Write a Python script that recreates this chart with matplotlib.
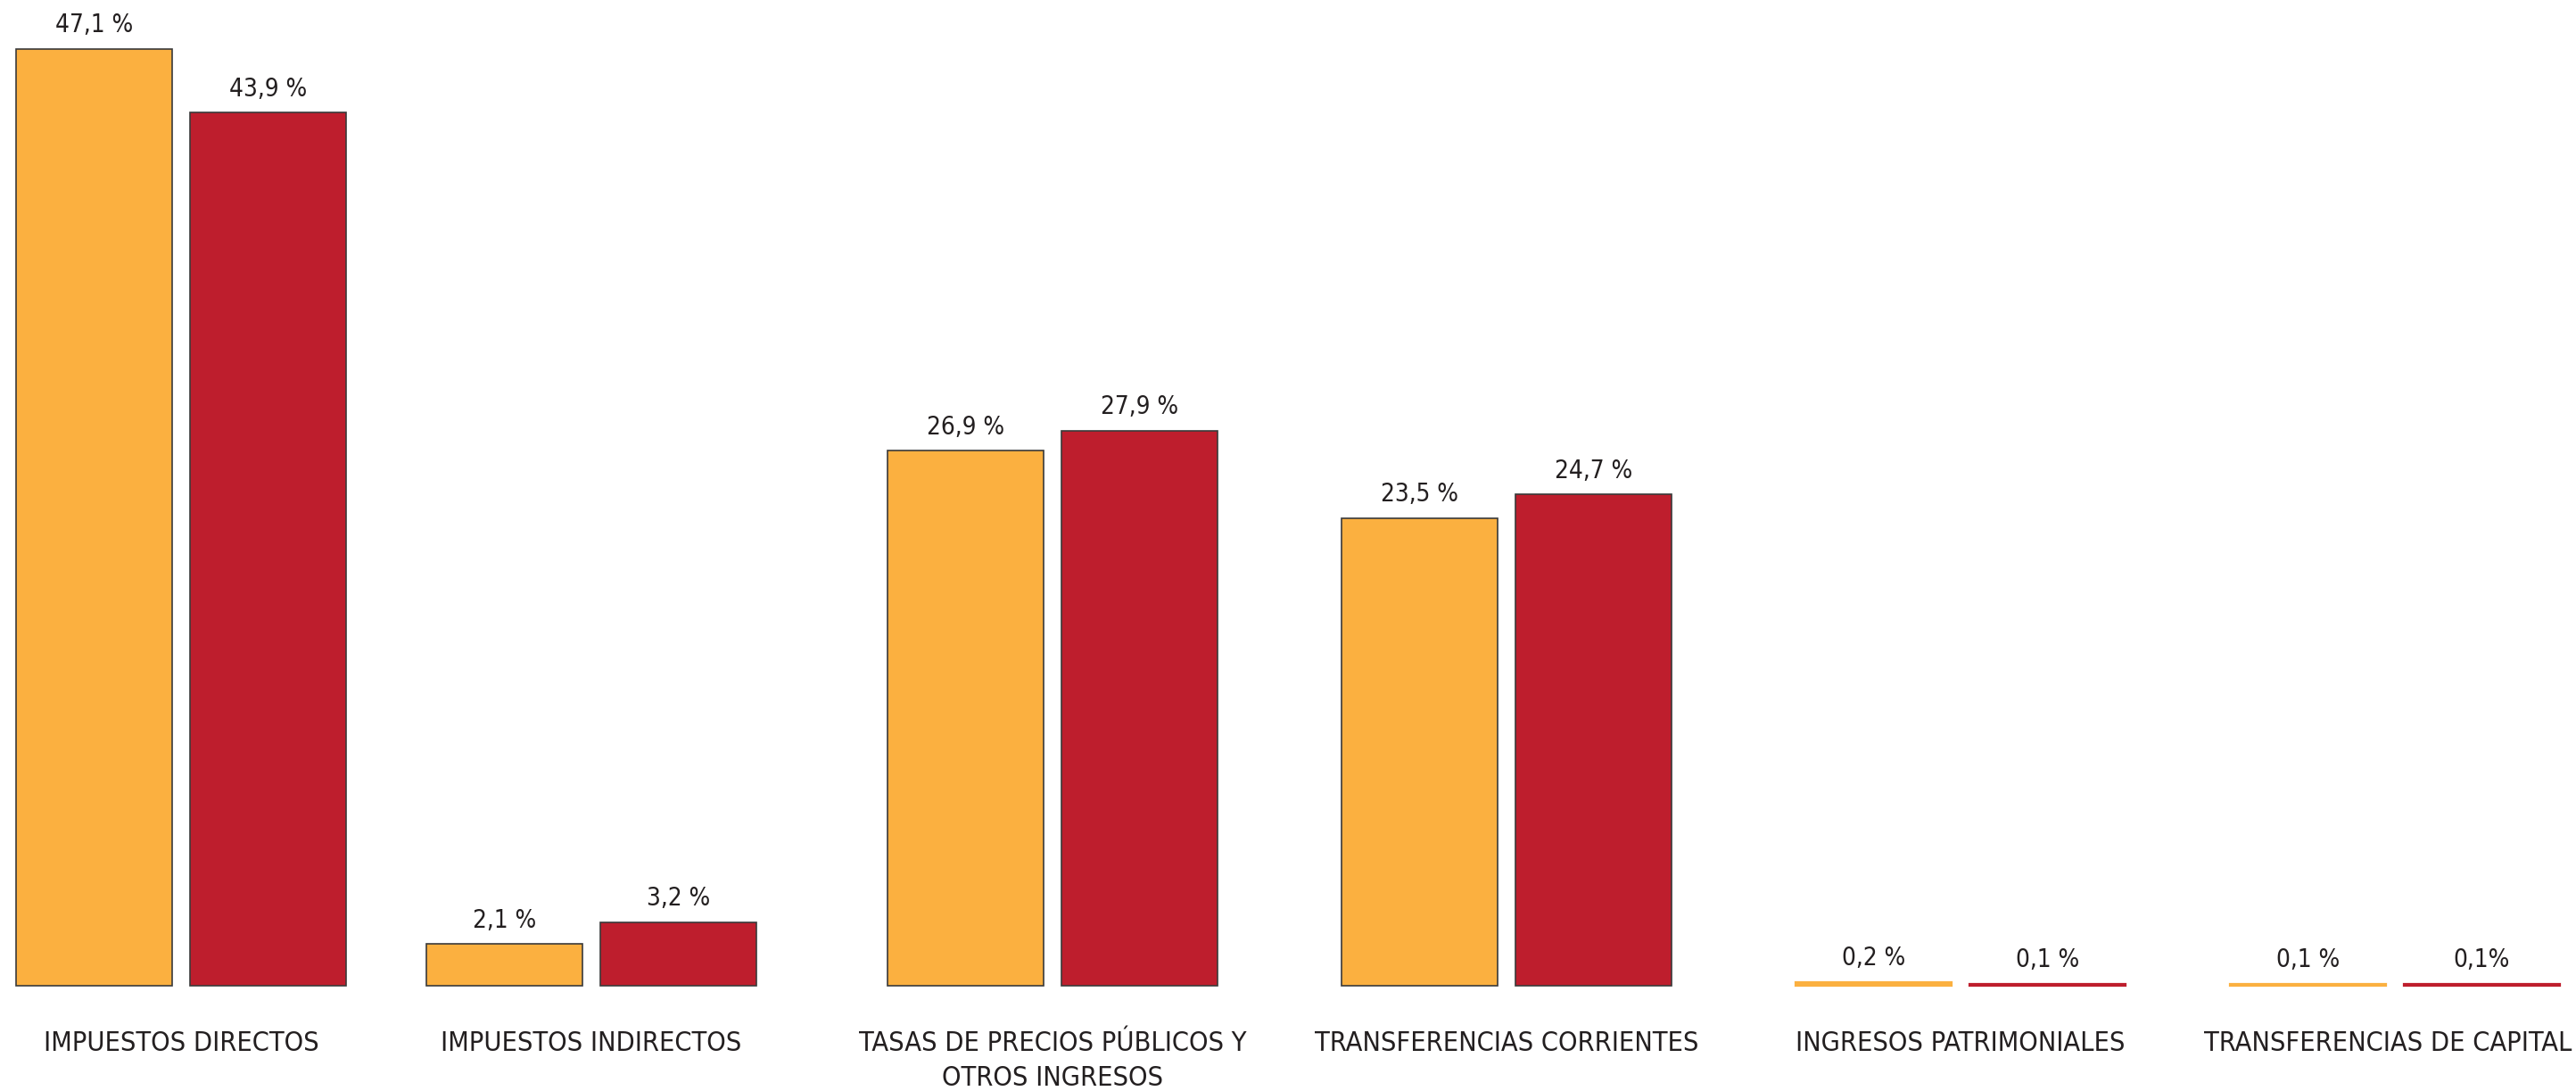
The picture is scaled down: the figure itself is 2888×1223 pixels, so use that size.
import numpy as np
import matplotlib.pyplot as plt

categories = ['IMPUESTOS DIRECTOS', 'IMPUESTOS INDIRECTOS',
              'TASAS DE PRECIOS PÚBLICOS Y\nOTROS INGRESOS',
              'TRANSFERENCIAS CORRIENTES', 'INGRESOS PATRIMONIALES',
              'TRANSFERENCIAS DE CAPITAL']
serie_a = [47.1, 2.1, 26.9, 23.5, 0.2, 0.1]
serie_b = [43.9, 3.2, 27.9, 24.7, 0.1, 0.1]
labels_a = ['47,1 %', '2,1 %', '26,9 %', '23,5 %', '0,2 %', '0,1 %']
labels_b = ['43,9 %', '3,2 %', '27,9 %', '24,7 %', '0,1 %', '0,1%']

# layout (pixel units across the figure)
centers = [203, 663, 1180, 1689, 2198, 2685]
bar_w = 175
off = 97.5
scale = 22.3  # px per percent
base_px = 1105

fig = plt.figure(figsize=(28.88, 12.23), dpi=100)
ax = fig.add_axes([0, 0, 1, 1])
ax.set_xlim(0, 2888)
ax.set_ylim(-(1223 - base_px) / scale, base_px / scale)
ax.axis('off')

font = dict(family='DejaVu Sans', stretch='condensed', color='#231f20')
x = np.array(centers)
orange, red = '#FBB040', '#BE1E2D'

# big bars get a dark outline, the tiny ones are just a coloured strip
ec_a = ['#3a3a3a' if v >= 1 else orange for v in serie_a]
ec_b = ['#3a3a3a' if v >= 1 else red for v in serie_b]
lw_a = [1.2 if v >= 1 else 1.6 for v in serie_a]
lw_b = [1.2 if v >= 1 else 1.6 for v in serie_b]
ax.bar(x - off, serie_a, width=bar_w, color=orange, edgecolor=ec_a, linewidth=lw_a)
ax.bar(x + off, serie_b, width=bar_w, color=red, edgecolor=ec_b, linewidth=lw_b)

for xi, v, t in zip(x - off, serie_a, labels_a):
    ax.annotate(t, (xi, v), xytext=(0, 9), textcoords='offset points',
                ha='center', va='bottom', fontsize=20, **font)
for xi, v, t in zip(x + off, serie_b, labels_b):
    ax.annotate(t, (xi, v), xytext=(0, 9), textcoords='offset points',
                ha='center', va='bottom', fontsize=20, **font)

lab_y = -(1155 - base_px) / scale
for i, (xi, c) in enumerate(zip(centers, categories)):
    if i == len(categories) - 1:
        ax.text(2883, lab_y, c, ha='right', va='top', fontsize=22,
                linespacing=1.45, **font)
    else:
        ax.text(xi, lab_y, c, ha='center', va='top', fontsize=22,
                linespacing=1.45, **font)

plt.savefig('out.png', dpi=100, facecolor='white')
